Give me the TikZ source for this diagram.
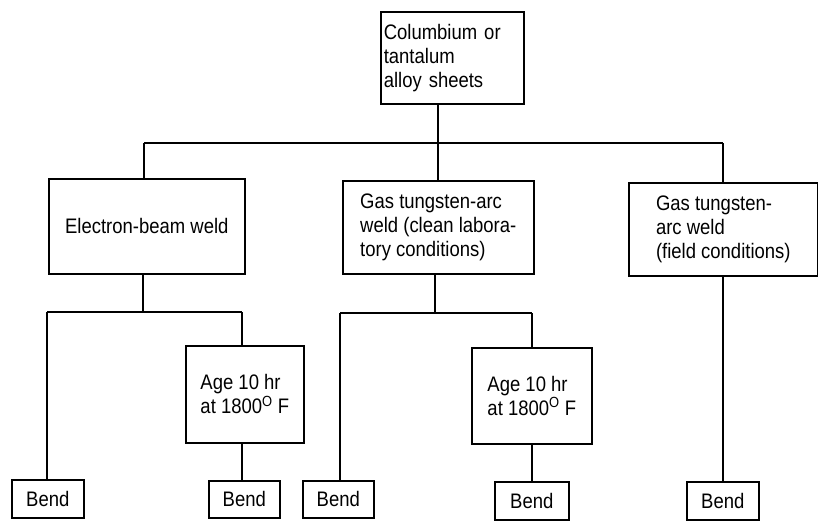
\documentclass[tikz,border=0pt]{standalone}
\usepackage{fontspec}
\setmainfont{Liberation Sans}[FakeStretch=0.88]
\begin{document}
\begin{tikzpicture}[x=1pt,y=-1pt,
  box/.style={draw, line width=1.6pt, inner ysep=0pt, align=left, anchor=north west,
    font=\fontsize{21}{24}\selectfont},
  link/.style={line width=1.6pt}]
\useasboundingbox (0,0) rectangle (818,520);
% boxes
\node[box, minimum height=92pt, text width=137pt, inner xsep=3pt] (top) at (380,11)
  {Columbium or\\tantalum\\alloy sheets};
\node[box, minimum width=196pt, minimum height=95pt, align=center] (eb) at (48,178)
  {Electron-beam weld};
\node[box, minimum width=191pt, minimum height=93pt] (gtc) at (342,180)
  {Gas tungsten-arc\\weld (clean labora-\\tory conditions)};
\node[box, minimum width=189pt, minimum height=93pt] (gtr) at (628,182)
  {Gas tungsten-\\arc weld\\(field conditions)};
\node[box, minimum width=118pt, minimum height=97pt] (age1) at (185,345)
  {Age 10 hr\\at 1800\textsuperscript{O} F};
\node[box, minimum width=120pt, minimum height=96pt] (age2) at (471,347)
  {Age 10 hr\\at 1800\textsuperscript{O} F};
\node[box, minimum width=72pt, minimum height=38pt] (b1) at (11,479) {Bend};
\node[box, minimum width=71pt, minimum height=37pt] (b2) at (208,480) {Bend};
\node[box, minimum width=71pt, minimum height=37pt] (b3) at (302,480) {Bend};
\node[box, minimum width=74pt, minimum height=38pt] (b4) at (494,481) {Bend};
\node[box, minimum width=72pt, minimum height=38pt] (b5) at (686,481) {Bend};
% junction coordinates
\coordinate (j0) at (438,143);
\coordinate (j0l) at (144,143);
\coordinate (j0r) at (723,143);
\coordinate (j1) at (143,312);
\coordinate (j1l) at (47,312);
\coordinate (j1r) at (242,312);
\coordinate (j2) at (435,313);
\coordinate (j2l) at (340,313);
\coordinate (j2r) at (532,313);
% connectors
\draw[link] (top.south -| j0) -- (j0);
\draw[link] (j0l) -- (j0r);
\draw[link] (j0l) -- (eb.north -| j0l);
\draw[link] (j0) -- (gtc.north -| j0);
\draw[link] (j0r) -- (gtr.north -| j0r);
\draw[link] (eb.south -| j1) -- (j1);
\draw[link] (j1l) -- (j1r);
\draw[link] (j1l) -- (b1.north -| j1l);
\draw[link] (j1r) -- (age1.north -| j1r);
\draw[link] (age1.south -| j1r) -- (b2.north -| j1r);
\draw[link] (gtc.south -| j2) -- (j2);
\draw[link] (j2l) -- (j2r);
\draw[link] (j2l) -- (b3.north -| j2l);
\draw[link] (j2r) -- (age2.north -| j2r);
\draw[link] (age2.south -| j2r) -- (b4.north -| j2r);
\draw[link] (gtr.south -| j0r) -- (b5.north -| j0r);
\end{tikzpicture}
\end{document}
